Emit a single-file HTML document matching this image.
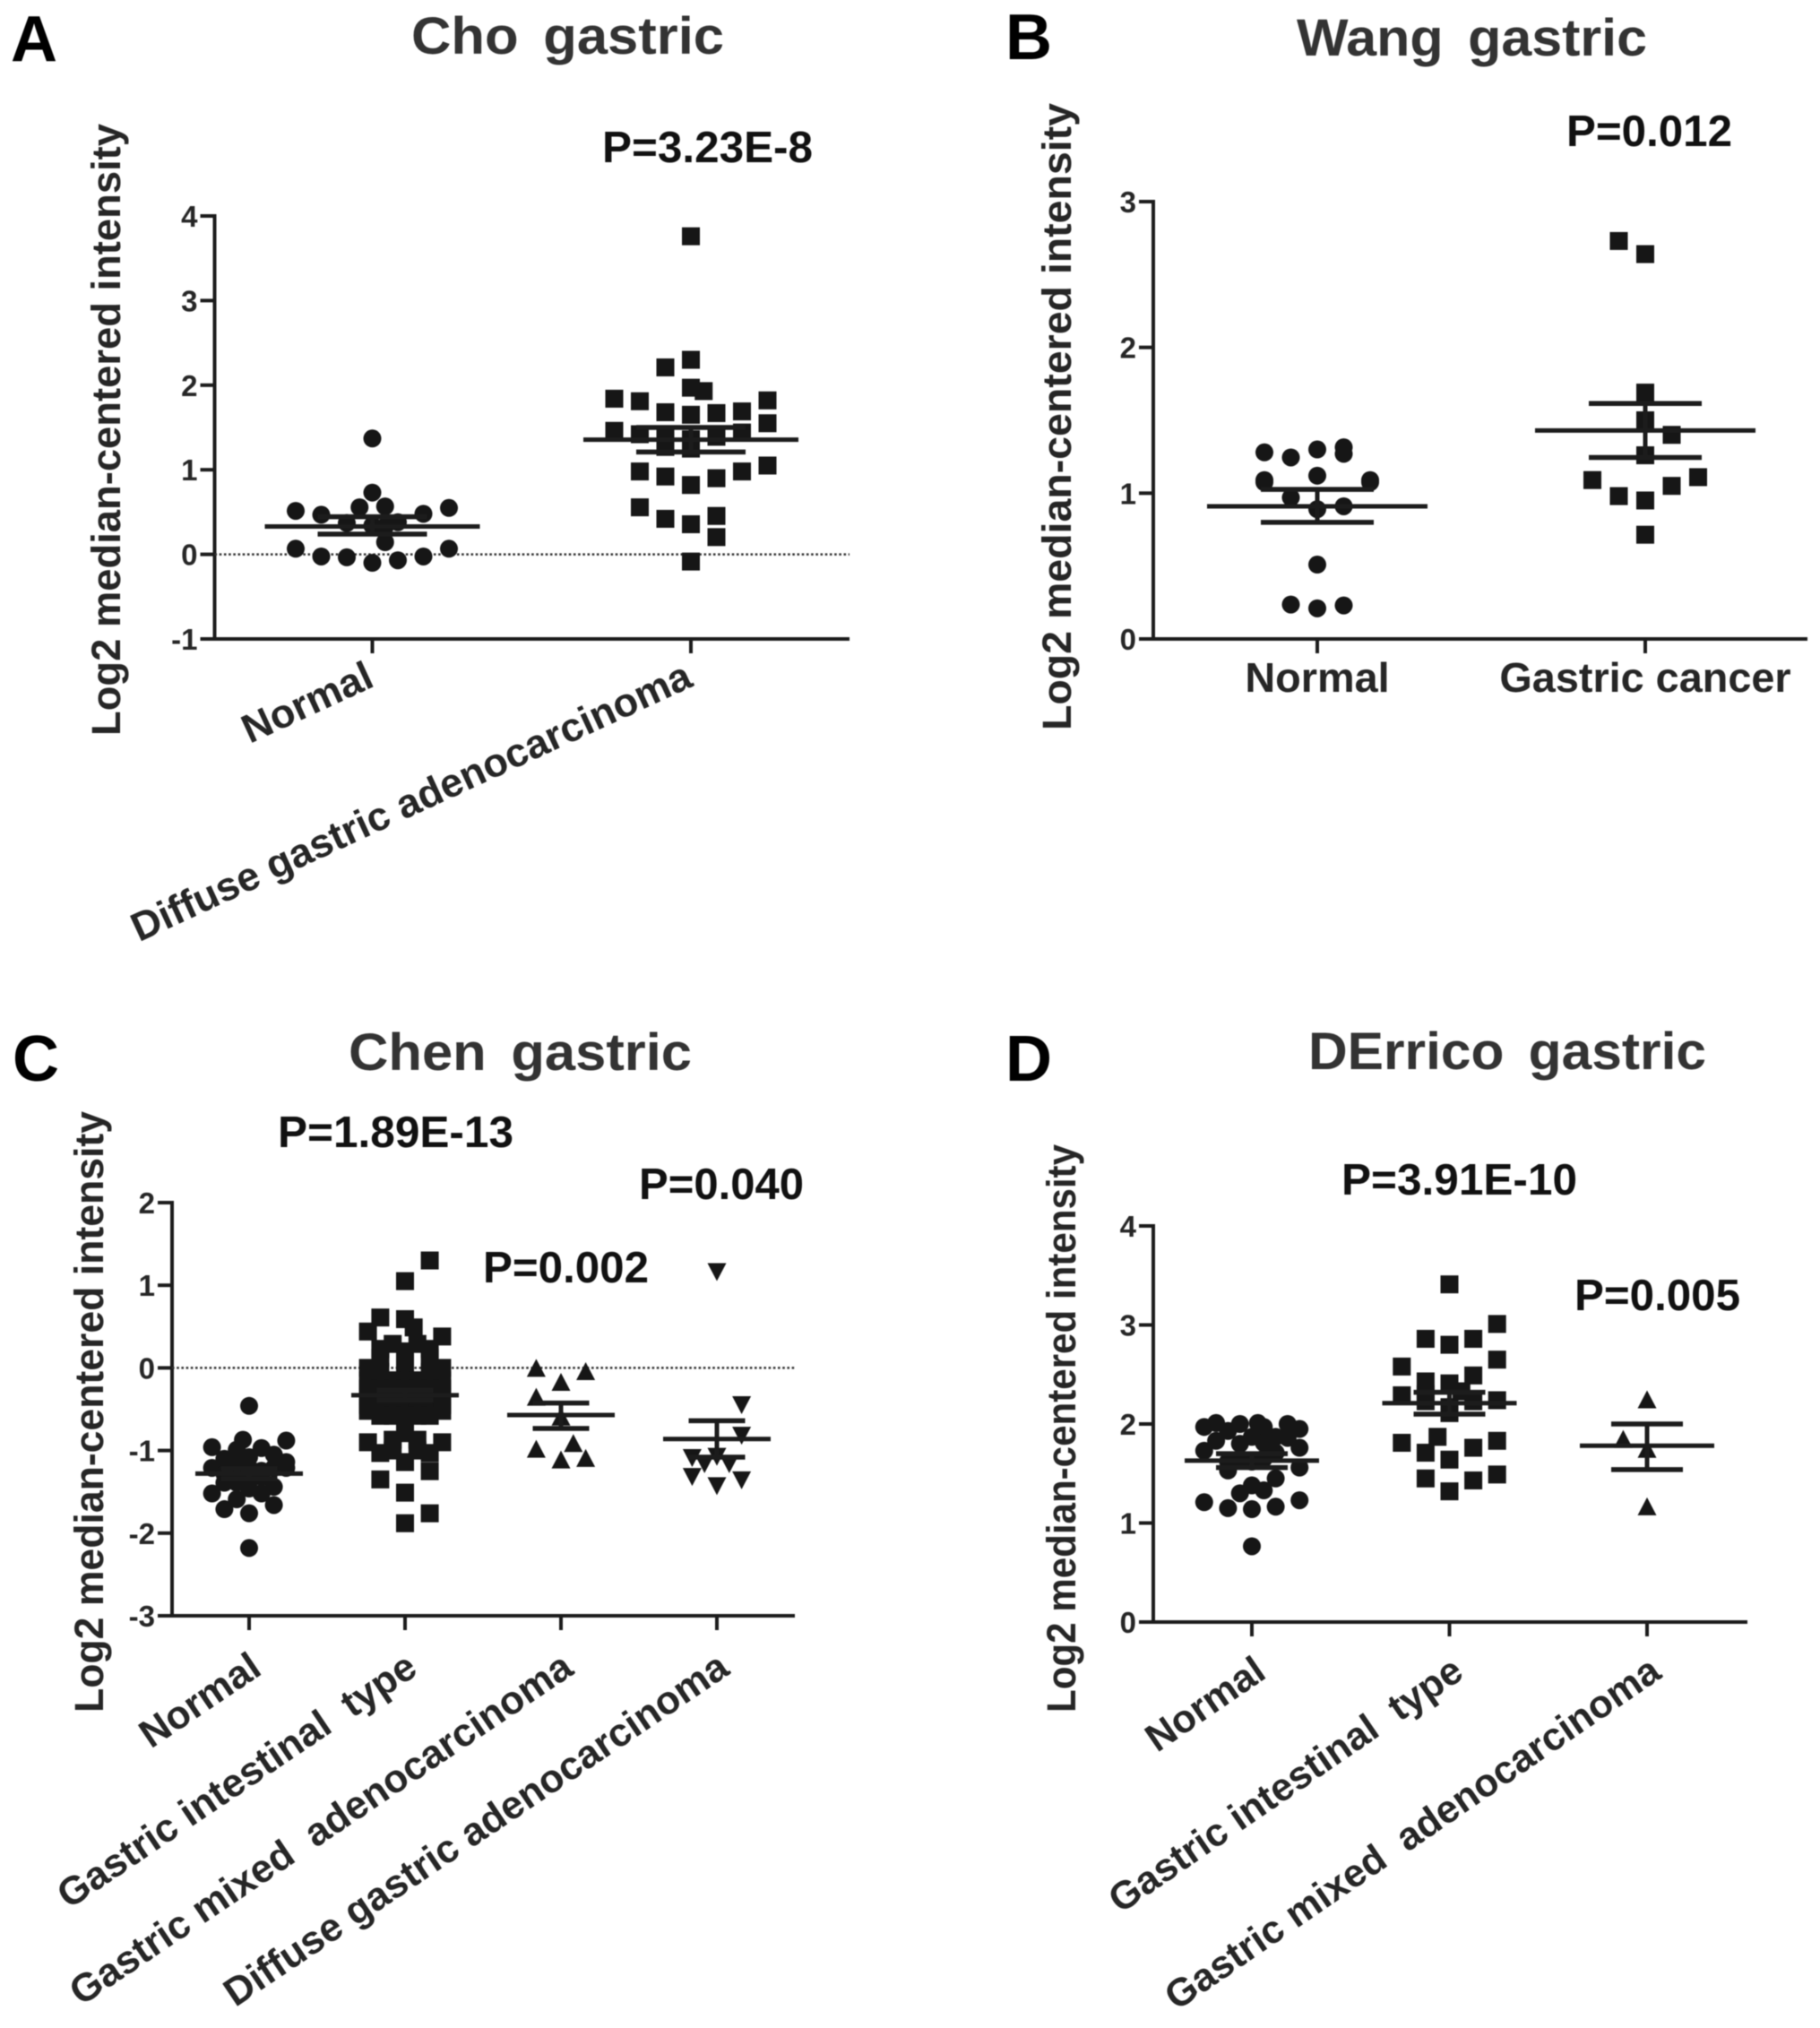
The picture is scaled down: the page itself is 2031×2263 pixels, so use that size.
<!DOCTYPE html>
<html lang="en">
<head>
<meta charset="utf-8">
<title>Log2 median-centered intensity in gastric datasets</title>
<style>
html,body{margin:0;padding:0;background:#fff;width:2031px;height:2263px;overflow:hidden}
svg{display:block;filter:blur(0.6px)}
text{font-family:"Liberation Sans",sans-serif;font-weight:bold;fill:#262626}
.letter{font-size:72px;fill:#000}
.title{font-size:58px;fill:#333;word-spacing:10px}
.pval{font-size:49px;fill:#111}
.ytitle{font-size:45px}
</style>
</head>
<body>
<svg id="figure" xmlns="http://www.w3.org/2000/svg" width="2031" height="2263" viewBox="0 0 2031 2263">
<rect width="2031" height="2263" fill="#fff"/>

<g>
<text class="letter" x="12" y="68">A</text>
<text class="title" x="459" y="60" textLength="349" lengthAdjust="spacingAndGlyphs">Cho gastric</text>
<text class="pval" x="672" y="181" textLength="235" lengthAdjust="spacingAndGlyphs">P=3.23E-8</text>
<text class="ytitle" transform="translate(134,821) rotate(-90)" textLength="683" lengthAdjust="spacingAndGlyphs">Log2 median-centered intensity</text>
</g>

<g>
<text class="letter" x="1122" y="66">B</text>
<text class="title" x="1447" y="62" textLength="391" lengthAdjust="spacingAndGlyphs">Wang gastric</text>
<text class="pval" x="1748" y="163" textLength="185" lengthAdjust="spacingAndGlyphs">P=0.012</text>
<text class="ytitle" transform="translate(1195,815) rotate(-90)" textLength="700" lengthAdjust="spacingAndGlyphs">Log2 median-centered intensity</text>
</g>

<g>
<text class="letter" x="14" y="1206">C</text>
<text class="title" x="389" y="1194" textLength="383" lengthAdjust="spacingAndGlyphs">Chen gastric</text>
<text class="pval" x="310" y="1280" textLength="263" lengthAdjust="spacingAndGlyphs">P=1.89E-13</text>
<text class="pval" x="713" y="1338" textLength="184" lengthAdjust="spacingAndGlyphs">P=0.040</text>
<text class="pval" x="539" y="1431" textLength="185" lengthAdjust="spacingAndGlyphs">P=0.002</text>
<text class="ytitle" transform="translate(115,1911) rotate(-90)" textLength="671" lengthAdjust="spacingAndGlyphs">Log2 median-centered intensity</text>
</g>

<g>
<text class="letter" x="1122" y="1206">D</text>
<text class="title" x="1460" y="1193" textLength="444" lengthAdjust="spacingAndGlyphs">DErrico gastric</text>
<text class="pval" x="1497" y="1333" textLength="263" lengthAdjust="spacingAndGlyphs">P=3.91E-10</text>
<text class="pval" x="1757" y="1462" textLength="185" lengthAdjust="spacingAndGlyphs">P=0.005</text>
<text class="ytitle" transform="translate(1200,1911) rotate(-90)" textLength="634" lengthAdjust="spacingAndGlyphs">Log2 median-centered intensity</text>
</g>
</svg>

<script>
// ---------- Panel A: Cho gastric ----------
const choCategories = ["Normal", "Diffuse gastric adenocarcinoma"];
const choTicks = ["4", "3", "2", "1", "0", "-1"];
const choNormalValues = [1.37,0.73,0.556,0.567,0.514,0.468,0.479,0.549,0.37,0.34,0.38,0.33,0.144,0.067,0.067,-0.025,-0.035,-0.10,-0.07,-0.025];
const choNormalColumns = [0,0,-0.5,0.5,-3,-2,2,3,-1,0,1,0.5,0.5,-3,3,-2,-1,0,1,2];
const choDiffuseValues = [3.76,2.30,2.21,1.97,1.93,1.84,1.81,1.82,1.68,1.65,1.67,1.69,1.55,1.46,1.42,1.44,1.38,1.39,1.36,1.27,1.25,1.05,0.98,0.98,0.92,0.90,0.82,0.556,0.42,0.454,0.356,0.204,-0.085];
const choDiffuseColumns = [0,0,-1,0,0.5,-3,-2,3,-1,0,1,2,3,-3,-2,2,-1,1,0,-1,0,3,-2,2,-1,1,0,-2,-1,1,0,1,0];
const choMeans = [0.33,1.356];
const choErrUpper = [0.444,1.5];
const choErrLower = [0.24,1.21];

// ---------- Panel B: Wang gastric ----------
const wangCategories = ["Normal", "Gastric cancer"];
const wangTicks = ["3", "2", "1", "0"];
const wangNormalValues = [1.28,1.245,1.30,1.315,1.27,1.12,1.075,1.075,1.09,1.09,0.97,0.89,0.91,0.51,0.236,0.21,0.23];
const wangNormalColumns = [-2,-1,0,1,1,0,-2,2,-2,2,-1,0,1,0,-1,0,1];
const wangCancerValues = [2.73,2.64,1.69,1.50,1.40,1.26,1.09,1.11,1.05,0.98,0.95,0.715];
const wangCancerColumns = [-1,0,0,0,1,0,-2,2,1,-1,0,0];
const wangMeans = [0.91,1.43];
const wangErrUpper = [1.026,1.615];
const wangErrLower = [0.80,1.245];

// ---------- Panel C: Chen gastric ----------
const chenCategories = ["Normal", "Gastric intestinal  type", "Gastric mixed  adenocarcinoma", "Diffuse gastric adenocarcinoma"];
const chenTicks = ["2", "1", "0", "-1", "-2", "-3"];
const chenNormalValues = [-0.46,-2.18,-1.71,-1.76,-1.66,-1.52,-1.59,-1.52,-1.44,-1.39,-1.46,-1.21,-1.21,-1.245,-1.245,-1.21,-1.10,-1.05,-0.96,-0.88,-0.97,-0.99,-0.87,-1.32,-1.39,-1.08,-1.28,-1.21,-1.14,-1.15,-1.30];
const chenNormalColumns = [0,0,-2,0,2,-3,-1,1,2,-2,0,-3,3,-1,1,0,-2,2,-3,3,1,-1,-0.5,1,-1,0,-2,2,3,-1,0];
const chenIntestinalValues = [1.30,1.05,0.61,0.59,0.44,0.49,0.38,0.29,0.23,0.29,0.23,0.20,0.12,0.12,0.05,0,0,-0.05,-0.05,-0.05,-0.15,-0.15,-0.15,-0.15,-0.15,-0.25,-0.25,-0.25,-0.25,-0.25,-0.25,-0.25,-0.35,-0.35,-0.35,-0.35,-0.35,-0.35,-0.35,-0.45,-0.45,-0.45,-0.45,-0.45,-0.45,-0.45,-0.52,-0.52,-0.52,-0.52,-0.58,-0.58,-0.58,-0.58,-0.58,-0.9,-0.9,-0.79,-0.87,-0.87,-1.03,-1.03,-1.0,-1.0,-1.14,-1.25,-1.35,-1.51,-1.76,-1.88];
const chenIntestinalColumns = [2,0,-2,0,-3,0.7,3,-1,-2,1,2,0,-2,2,0,-3,3,-2,2,0,-3,-1,1,3,0,-3,-2,-1,0,1,2,3,-3,-2,-1,0,1,2,3,-3,-2,-1,0,1,2,3,-3,3,-1,1,-2,0,2,-1,1,-3,3,0,-1,1,-2,2,-1,1,0,2,-2,0,2,0];
const chenMixedValues = [-0.01,-0.05,-0.18,-0.36,-0.60,-0.99,-0.92,-1.12,-1.10];
const chenMixedColumns = [-2,2,0,-2,0,-2,1,0,2];
const chenDiffuseValues = [1.17,-0.44,-0.81,-1.08,-1.155,-1.065,-1.155,-1.31,-1.42,-1.35];
const chenDiffuseColumns = [0,2,2,-2,-1,0,1,-2,0,2];
const chenMeans = [-1.28,-0.33,-0.57,-0.86];
const chenErrUpper = [-1.22,-0.27,-0.426,-0.64];
const chenErrLower = [-1.34,-0.39,-0.733,-1.08];

// ---------- Panel D: DErrico gastric ----------
const derricoCategories = ["Normal", "Gastric intestinal  type", "Gastric mixed  adenocarcinoma"];
const derricoTicks = ["4", "3", "2", "1", "0"];
const derricoNormalValues = [1.97,2.01,1.93,2.0,2.01,1.97,2.0,1.95,1.83,1.80,1.87,1.81,1.87,1.86,1.76,1.73,1.71,1.62,1.53,1.62,1.65,1.65,1.56,1.45,1.38,1.33,1.30,1.21,1.23,1.15,1.165,1.14,0.765];
const derricoNormalColumns = [-4,-3,-2,-1,0.5,1,3,4,-3,-1,0,1,2,3,4,-4,2,-2,-2,0,-1,1,4,2,0,1,-1,-4,4,-2,2,0,0];
const derricoIntestinalValues = [3.41,3.01,2.86,2.86,2.80,2.65,2.58,2.49,2.43,2.41,2.33,2.29,2.30,2.23,2.24,2.23,2.17,2.11,1.83,1.87,1.81,1.76,1.71,1.64,1.49,1.45,1.43,1.32];
const derricoIntestinalColumns = [0,2,-1,1,0,2,-2,1,-1,0,0.5,-2,-1,1,2,-1,0,0,2,-0.5,-2,1,-1,0,2,-1,1,0];
const derricoMixedValues = [2.24,1.84,1.74,1.16];
const derricoMixedColumns = [0,-2,0,0];
const derricoMeans = [1.63,2.21,1.78];
const derricoErrUpper = [1.70,2.32,2.0];
const derricoErrLower = [1.56,2.10,1.54];

// ---------- Rendering ----------
const NS = "http://www.w3.org/2000/svg";
const figure = document.getElementById("figure");
const INK = "#1c1c1c";

function make(tag, parent) {
  const el = document.createElementNS(NS, tag);
  parent.appendChild(el);
  return el;
}
function line(parent, x1, y1, x2, y2, width, color) {
  const l = make("line", parent);
  l.setAttribute("x1", x1);
  l.setAttribute("y1", y1);
  l.setAttribute("x2", x2);
  l.setAttribute("y2", y2);
  l.setAttribute("stroke", color || INK);
  l.setAttribute("stroke-width", width);
  return l;
}
function drawMarker(parent, shape, cx, cy) {
  let m;
  if (shape === "circle") {
    m = make("circle", parent);
    m.setAttribute("cx", cx);
    m.setAttribute("cy", cy);
    m.setAttribute("r", 10);
  } else if (shape === "square") {
    m = make("rect", parent);
    m.setAttribute("x", cx - 10);
    m.setAttribute("y", cy - 10);
    m.setAttribute("width", 20);
    m.setAttribute("height", 20);
  } else if (shape === "up") {
    m = make("polygon", parent);
    m.setAttribute("points", `${cx},${cy - 11} ${cx + 10.5},${cy + 9} ${cx - 10.5},${cy + 9}`);
  } else {
    m = make("polygon", parent);
    m.setAttribute("points", `${cx},${cy + 11} ${cx + 10.5},${cy - 9} ${cx - 10.5},${cy - 9}`);
  }
  m.setAttribute("fill", "#161616");
  return m;
}

function drawPanel(p) {
  const root = make("g", figure);
  
  

  const yScale = v => p.yTop + (p.vTop - v) * (p.yBottom - p.yTop) / (p.vTop - p.vBottom);
  const xScale = i => p.xFirst + i * p.xStep;

  // axes
  const yAxis = line(root, p.xAxis, p.yTop - 2, p.xAxis, p.yBottom + 2, 4);
  
  
  const xAxis = line(root, p.xAxis - 16, p.yBottom, p.xEnd, p.yBottom, 4);
  
  

  // y ticks
  p.ticks.forEach(label => {
    const v = parseFloat(label);
    const y = yScale(v);
    const t = line(root, p.xAxis - 16, y, p.xAxis, y, 4);
    
    
    const txt = make("text", root);
    txt.setAttribute("x", p.xAxis - 19);
    txt.setAttribute("y", y + 12);
    txt.setAttribute("text-anchor", "end");
    txt.setAttribute("font-size", p.tickFont);
    
    
    txt.textContent = label;
  });

  // reference line at zero
  if (p.zeroLine) {
    const z = line(root, p.xAxis, yScale(0), p.xEnd, yScale(0), 2.5, "#333");
    z.setAttribute("stroke-dasharray", "2.6 2.6");
    
    
  }

  // category ticks and labels
  p.categories.forEach((label, i) => {
    const x = xScale(i);
    const t = line(root, x, p.yBottom, x, p.yBottom + 16, 4);
    
    
    const txt = make("text", root);
    txt.setAttribute("font-size", p.labelFont);
    
    
    txt.setAttribute("xml:space", "preserve");
    txt.style.whiteSpace = "pre";
    txt.textContent = label;
    if (p.labelAngle) {
      txt.setAttribute("text-anchor", "end");
      txt.setAttribute("transform", `translate(${x + p.labelDx},${p.yBottom + p.labelDy}) rotate(${p.labelAngle})`);
    } else {
      txt.setAttribute("text-anchor", "middle");
      txt.setAttribute("x", x);
      txt.setAttribute("y", p.yBottom + p.labelDy);
    }
  });

  // series
  p.series.forEach((s, i) => {
    const g = make("g", root);
    
    
    const cx = xScale(i);
    s.values.forEach((v, k) => {
      const m = drawMarker(g, s.shape, cx + s.columns[k] * s.columnWidth, yScale(v));
      
      
    });
    const mean = line(g, cx - p.meanHalf, yScale(p.means[i]), cx + p.meanHalf, yScale(p.means[i]), 5);
    
    
    const up = line(g, cx - p.errHalf, yScale(p.errUpper[i]), cx + p.errHalf, yScale(p.errUpper[i]), 5.5);
    
    
    const low = line(g, cx - p.errHalf, yScale(p.errLower[i]), cx + p.errHalf, yScale(p.errLower[i]), 5.5);
    
    
    const stem = line(g, cx, yScale(p.errUpper[i]), cx, yScale(p.errLower[i]), 5);
    
    
  });
}

drawPanel({
  name: "panel-a-chart", xAxis: 239.5, xEnd: 948, yTop: 241, yBottom: 713, vTop: 4, vBottom: -1,
  xFirst: 415.5, xStep: 355.5, ticks: choTicks, categories: choCategories, zeroLine: true,
  tickFont: 33, labelFont: 45, labelAngle: -24.8, labelDx: 4, labelDy: 52, meanHalf: 120, errHalf: 61,
  means: choMeans, errUpper: choErrUpper, errLower: choErrLower,
  series: [
    { shape: "circle", values: choNormalValues, columns: choNormalColumns, columnWidth: 28.5 },
    { shape: "square", values: choDiffuseValues, columns: choDiffuseColumns, columnWidth: 28.5 }
  ]
});
drawPanel({
  name: "panel-b-chart", xAxis: 1287, xEnd: 2017, yTop: 225, yBottom: 713, vTop: 3, vBottom: 0,
  xFirst: 1470, xStep: 366, ticks: wangTicks, categories: wangCategories, zeroLine: false,
  tickFont: 33, labelFont: 46.8, labelAngle: 0, labelDx: 0, labelDy: 59, meanHalf: 123, errHalf: 63,
  means: wangMeans, errUpper: wangErrUpper, errLower: wangErrLower,
  series: [
    { shape: "circle", values: wangNormalValues, columns: wangNormalColumns, columnWidth: 29.5 },
    { shape: "square", values: wangCancerValues, columns: wangCancerColumns, columnWidth: 29.5 }
  ]
});
drawPanel({
  name: "panel-c-chart", xAxis: 192, xEnd: 887, yTop: 1342, yBottom: 1803, vTop: 2, vBottom: -3,
  xFirst: 278, xStep: 174, ticks: chenTicks, categories: chenCategories, zeroLine: true,
  tickFont: 33, labelFont: 44, labelAngle: -34, labelDx: 16, labelDy: 64, meanHalf: 60, errHalf: 31.5,
  means: chenMeans, errUpper: chenErrUpper, errLower: chenErrLower,
  series: [
    { shape: "circle", values: chenNormalValues, columns: chenNormalColumns, columnWidth: 13.8 },
    { shape: "square", values: chenIntestinalValues, columns: chenIntestinalColumns, columnWidth: 13.8 },
    { shape: "up", values: chenMixedValues, columns: chenMixedColumns, columnWidth: 13.8 },
    { shape: "down", values: chenDiffuseValues, columns: chenDiffuseColumns, columnWidth: 13.8 }
  ]
});
drawPanel({
  name: "panel-d-chart", xAxis: 1287, xEnd: 1950, yTop: 1368, yBottom: 1810, vTop: 4, vBottom: 0,
  xFirst: 1397, xStep: 220.5, ticks: derricoTicks, categories: derricoCategories, zeroLine: false,
  tickFont: 33, labelFont: 43.6, labelAngle: -34.5, labelDx: 18, labelDy: 61, meanHalf: 75, errHalf: 40,
  means: derricoMeans, errUpper: derricoErrUpper, errLower: derricoErrLower,
  series: [
    { shape: "circle", values: derricoNormalValues, columns: derricoNormalColumns, columnWidth: 13.3 },
    { shape: "square", values: derricoIntestinalValues, columns: derricoIntestinalColumns, columnWidth: 26.6 },
    { shape: "up", values: derricoMixedValues, columns: derricoMixedColumns, columnWidth: 13.3 }
  ]
});
</script>
</body>
</html>
